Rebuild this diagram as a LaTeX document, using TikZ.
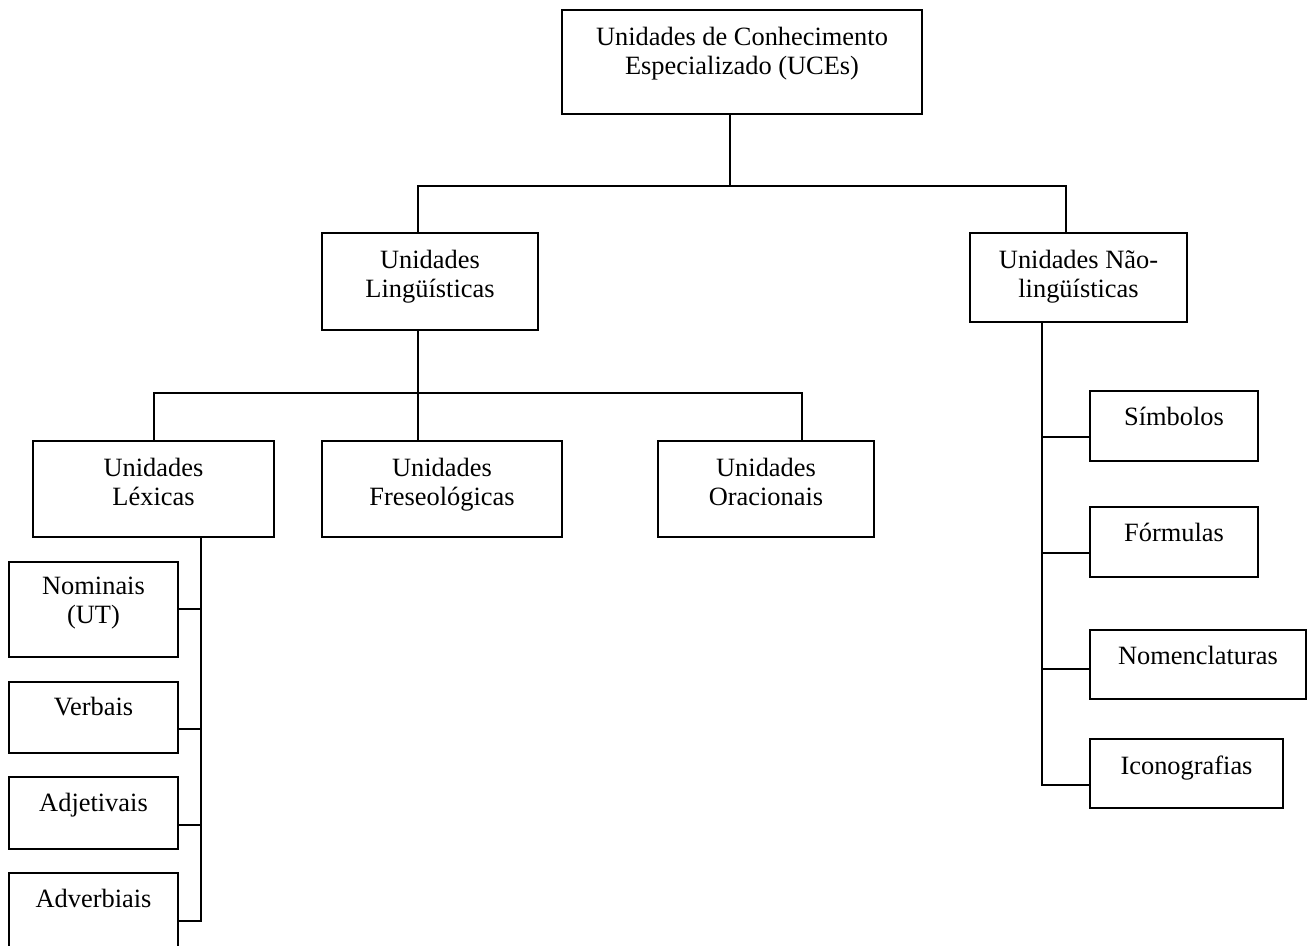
\documentclass[tikz,border=0pt]{standalone}
\usepackage{fontspec}
\setmainfont{Liberation Serif}
\usetikzlibrary{calc}

% one drawing unit = one pixel of a 1314 x 945 sheet, y pointing down
\newcommand\unitpt{0.4545}
% \ucebox{name}{left}{top}{right}{bottom}
\newcommand\ucebox[5]{%
  \node[box, minimum width={(#4-#2)*\unitpt pt}, minimum height={(#5-#3)*\unitpt pt}]
    (#1) at ({(#2+#4)/2},{(#3+#5)/2}) {};}

\begin{document}
\begin{tikzpicture}[x=\unitpt pt, y=-\unitpt pt,
  box/.style={draw, line width=0.9pt, inner sep=0pt, rectangle},
  lbl/.style={anchor=north, inner sep=0pt, align=center,
              font=\fontsize{12}{13.2}\selectfont},
  wire/.style={line width=0.9pt}]

\fill[white] (0,0) rectangle (1314,945);
\clip (0,0) rectangle (1314,945);

% boxes
\ucebox{top}{562}{10}{922}{114}
\ucebox{ling}{322}{233}{538}{330}
\ucebox{nling}{970}{233}{1187}{322}
\ucebox{lex}{33}{441}{274}{537}
\ucebox{fres}{322}{441}{562}{537}
\ucebox{orac}{658}{441}{874}{537}
\ucebox{nom}{9}{562}{178}{657}
\ucebox{verb}{9}{682}{178}{753}
\ucebox{adj}{9}{777}{178}{849}
\ucebox{advb}{9}{873}{178}{965}
\ucebox{simb}{1090}{391}{1258}{461}
\ucebox{form}{1090}{507}{1258}{577}
\ucebox{nomen}{1090}{630}{1306}{699}
\ucebox{icon}{1090}{739}{1283}{808}

% labels
\node[lbl] (toptxt)   at ($(top.north)+(0,18)$)   {Unidades de Conhecimento\\Especializado (UCEs)};
\node[lbl] (lingtxt)  at ($(ling.north)+(0,18)$)  {Unidades\\Lingüísticas};
\node[lbl] (nlingtxt) at ($(nling.north)+(0,18)$) {Unidades Não-\\lingüísticas};
\node[lbl] (lextxt)   at ($(lex.north)+(0,18)$)   {Unidades\\Léxicas};
\node[lbl] (frestxt)  at ($(fres.north)+(0,18)$)  {Unidades\\Freseológicas};
\node[lbl] (oractxt)  at ($(orac.north)+(0,18)$)  {Unidades\\Oracionais};
\node[lbl] (nomtxt)   at ($(nom.north)+(0,16)$)   {Nominais\\(UT)};
\node[lbl] (verbtxt)  at ($(verb.north)+(0,16)$)  {Verbais};
\node[lbl] (adjtxt)   at ($(adj.north)+(0,17)$)   {Adjetivais};
\node[lbl] (advbtxt)  at ($(advb.north)+(0,17)$)  {Adverbiais};
\node[lbl] (simbtxt)  at ($(simb.north)+(0,17)$)  {Símbolos};
\node[lbl] (formtxt)  at ($(form.north)+(0,17)$)  {Fórmulas};
\node[lbl] (nomentxt) at ($(nomen.north)+(0,17)$) {Nomenclaturas};
\node[lbl] (icontxt)  at ($(icon.north)+(0,17)$)  {Iconografias};

% junction points
\coordinate (j1)    at (730,186);
\coordinate (bus1L) at (418,186);
\coordinate (bus1R) at (1066,186);
\coordinate (j2)    at (418,393);
\coordinate (bus2L) at (154,393);
\coordinate (bus2R) at (802,393);
\coordinate (lspine) at (201,921);
\coordinate (lb1) at (201,609);
\coordinate (lb2) at (201,729);
\coordinate (lb3) at (201,825);
\coordinate (rspine) at (1042,785);
\coordinate (rb1) at (1042,437);
\coordinate (rb2) at (1042,553);
\coordinate (rb3) at (1042,669);

% top level
\draw[wire] (top.south -| j1) -- (j1);
\draw[wire] (ling.north -| bus1L) -- (bus1L) -- (bus1R) -- (nling.north -| bus1R);

% linguistic units
\draw[wire] (ling.south -| j2) -- (fres.north -| j2);
\draw[wire] (lex.north -| bus2L) -- (bus2L) -- (bus2R) -- (orac.north -| bus2R);

% lexical units
\draw[wire] (lex.south -| lspine) -- (lspine) -- (advb.east |- lspine);
\draw[wire] (nom.east |- lb1) -- (lb1);
\draw[wire] (verb.east |- lb2) -- (lb2);
\draw[wire] (adj.east |- lb3) -- (lb3);

% non-linguistic units
\draw[wire] (nling.south -| rspine) -- (rspine) -- (icon.west |- rspine);
\draw[wire] (simb.west |- rb1) -- (rb1);
\draw[wire] (form.west |- rb2) -- (rb2);
\draw[wire] (nomen.west |- rb3) -- (rb3);

\end{tikzpicture}
\end{document}
